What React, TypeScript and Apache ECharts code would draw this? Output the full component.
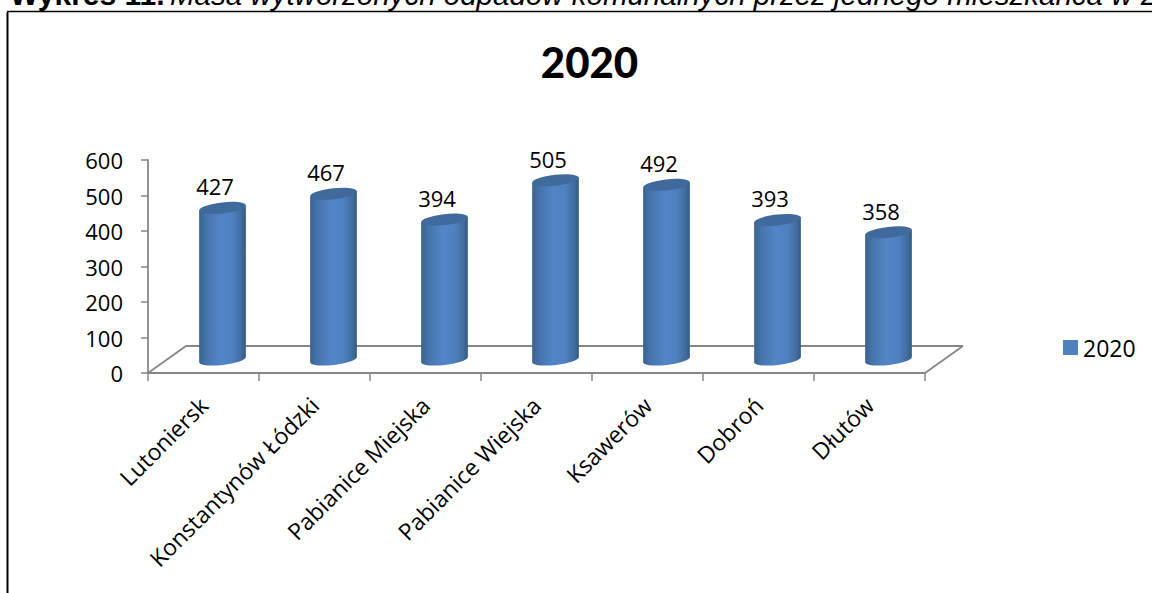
import React, { useEffect, useRef } from "react";
import * as echarts from "echarts";

const categories = ["Lutoniersk", "Konstantynów Łódzki", "Pabianice Miejska", "Pabianice Wiejska", "Ksawerów", "Dobroń", "Dłutów"];
const values = [427, 467, 394, 505, 492, 393, 358];
const seriesName = "2020";
const headingBold = "Wykres 11.";
const headingItalic = "Masa wytworzonych odpadów komunalnych przez jednego mieszkańca w 2";

const FONT = '"Open Sans", sans-serif';
const TITLE_FONT = "Lato, sans-serif";
const HEAD_FONT = '"Liberation Sans", Arial, sans-serif';
const GRAY = "#868686";
const DX = 19;
const DY = -13.5;
const RX = 23.5;
const RY = 5.5;
const TILT = (-6.5 * Math.PI) / 180;
const K = 0.5523;

const pt = (cx: number, cy: number, a: number, b: number) => [
  cx + a * RX * Math.cos(TILT) - b * RY * Math.sin(TILT),
  cy + a * RX * Math.sin(TILT) + b * RY * Math.cos(TILT),
];

function curve(ctx: any, cx: number, cy: number, segs: number[][]) {
  for (const s of segs) {
    const p1 = pt(cx, cy, s[0], s[1]);
    const p2 = pt(cx, cy, s[2], s[3]);
    const p3 = pt(cx, cy, s[4], s[5]);
    ctx.bezierCurveTo(p1[0], p1[1], p2[0], p2[1], p3[0], p3[1]);
  }
}

echarts.graphic.registerShape(
  "cylBody",
  echarts.graphic.extendShape({
    shape: { cx: 0, top: 0, base: 0 },
    buildPath(ctx: any, s: any) {
      const a = pt(s.cx, s.top, -1, 0);
      const b = pt(s.cx, s.base, -1, 0);
      const c = pt(s.cx, s.top, 1, 0);
      ctx.moveTo(a[0], a[1]);
      ctx.lineTo(b[0], b[1]);
      curve(ctx, s.cx, s.base, [
        [-1, K, -K, 1, 0, 1],
        [K, 1, 1, K, 1, 0],
      ]);
      ctx.lineTo(c[0], c[1]);
      ctx.closePath();
    },
  })
);

echarts.graphic.registerShape(
  "cylTop",
  echarts.graphic.extendShape({
    shape: { cx: 0, cy: 0 },
    buildPath(ctx: any, s: any) {
      const a = pt(s.cx, s.cy, -1, 0);
      ctx.moveTo(a[0], a[1]);
      curve(ctx, s.cx, s.cy, [
        [-1, K, -K, 1, 0, 1],
        [K, 1, 1, K, 1, 0],
        [1, -K, K, -1, 0, -1],
        [-K, -1, -1, -K, -1, 0],
      ]);
      ctx.closePath();
    },
  })
);

const bodyFill = () =>
  new echarts.graphic.LinearGradient(0, 0, 1, 0, [
    { offset: 0, color: "#3a628f" },
    { offset: 0.15, color: "#4573ab" },
    { offset: 0.45, color: "#5285c8" },
    { offset: 0.72, color: "#4f80bf" },
    { offset: 0.9, color: "#416d9f" },
    { offset: 1, color: "#345a85" },
  ]);

function renderItem(_params: any, api: any) {
  const i = api.value(0);
  const v = api.value(1);
  const top = api.coord([i, v]);
  const zero = api.coord([i, 0]);
  const cx = top[0] + DX;
  const topY = top[1] + DY;
  const baseY = zero[1] + DY;
  return {
    type: "group",
    children: [
      { type: "cylBody", shape: { cx, top: topY, base: baseY }, style: { fill: bodyFill() } },
      { type: "cylTop", shape: { cx, cy: topY }, style: { fill: "#3f6a9b" } },
      {
        type: "text",
        style: {
          text: String(v),
          x: cx - 7.5,
          y: topY - 21.5,
          align: "center",
          verticalAlign: "middle",
          font: `22px ${FONT}`,
          fill: "#000",
        },
      },
    ],
  };
}

export default function App() {
  const ref = useRef<HTMLDivElement>(null);
  useEffect(() => {
    const chart = echarts.init(ref.current!, undefined, { renderer: "svg" });
    const frame = (x1: number, y1: number, x2: number, y2: number, color: string, lineWidth: number) => ({
      type: "line",
      z: 0,
      shape: { x1, y1, x2, y2 },
      style: { stroke: color, lineWidth },
      silent: true,
    });
    chart.setOption({
      animation: false,
      backgroundColor: "#fff",
      title: {
        text: seriesName,
        left: 589.5,
        top: 40.5,
        padding: 0,
        textAlign: "center",
        textStyle: { fontFamily: TITLE_FONT, fontWeight: 900, fontSize: 42, color: "#000" },
      },
      legend: {
        data: [{ name: seriesName, icon: "rect" }],
        left: 1063,
        top: 336,
        padding: 0,
        itemWidth: 15,
        itemHeight: 15,
        itemGap: 7,
        textStyle: { fontFamily: FONT, fontSize: 23, color: "#000" },
      },
      grid: { left: 148, top: 160, width: 777, height: 213 },
      xAxis: {
        type: "category",
        data: categories,
        axisLine: { lineStyle: { color: GRAY, width: 1.8 } },
        axisTick: { show: true, alignWithLabel: false, length: 8, lineStyle: { color: GRAY, width: 1.5 } },
        axisLabel: { interval: 0, rotate: 45, margin: 28, fontFamily: FONT, fontSize: 23, color: "#000" },
      },
      yAxis: {
        type: "value",
        min: 0,
        max: 600,
        interval: 100,
        splitLine: { show: false },
        axisLine: { show: true, lineStyle: { color: GRAY, width: 1.8 } },
        axisTick: { show: true, length: 7, lineStyle: { color: GRAY, width: 1.5 } },
        axisLabel: { margin: 25, fontFamily: FONT, fontSize: 22, color: "#000" },
      },
      graphic: [
        frame(7.5, 12, 7.5, 593, "#000", 2),
        frame(7, 11.5, 1152, 11.5, "#000", 1.5),
        frame(148, 373, 186, 346, GRAY, 1.8),
        frame(186, 346, 963, 346, GRAY, 1.8),
        frame(963, 346, 925, 373, GRAY, 1.8),
        {
          type: "text",
          z: 1,
          x: 10,
          y: -21,
          style: { text: headingBold, font: `bold 30px ${HEAD_FONT}`, fill: "#000" },
        },
        {
          type: "text",
          z: 1,
          x: 170,
          y: -21,
          style: { text: headingItalic, font: `italic 29.5px ${HEAD_FONT}`, fill: "#000" },
        },
      ],
      series: [
        {
          type: "custom",
          name: seriesName,
          renderItem,
          itemStyle: { color: "#4f81bd" },
          encode: { x: 0, y: 1 },
          data: values.map((v, i) => [i, v]),
          z: 5,
        },
      ],
    });
    return () => chart.dispose();
  }, []);
  return <div ref={ref} style={{ position: "absolute", left: 0, top: 0, width: 1152, height: 593, overflow: "hidden" }} />;
}
